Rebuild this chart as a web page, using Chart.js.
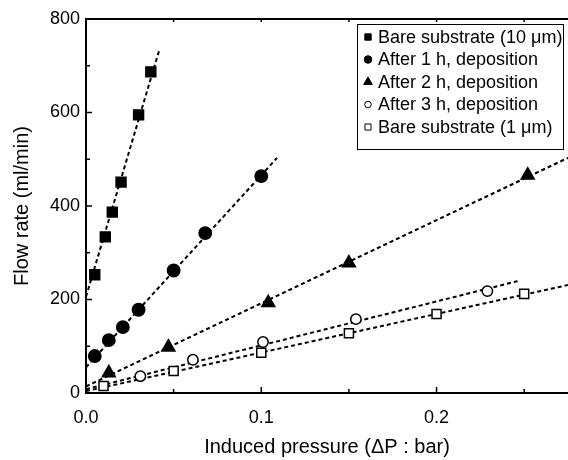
<!DOCTYPE html>
<html>
<head>
<meta charset="utf-8">
<script src="https://cdn.jsdelivr.net/npm/chart.js@4.4.0/dist/chart.umd.min.js"></script>
<style>
  html, body { margin: 0; padding: 0; background: #fff; }
</style>
</head>
<body>
<canvas id="grafico" width="568" height="460"></canvas>
<script>
// valores (fluxo x pressão)
const sub10X = [0.005, 0.011, 0.015, 0.020, 0.030, 0.037];
const sub10Y = [253, 334, 387, 451, 595, 687];
const dep1X = [0.005, 0.013, 0.021, 0.030, 0.050, 0.068, 0.100];
const dep1Y = [79, 113, 141, 178, 262, 342, 464];
const dep2X = [0.013, 0.047, 0.104, 0.150, 0.252];
const dep2Y = [43, 98, 193, 278, 466];
const dep3X = [0.031, 0.061, 0.101, 0.154, 0.229];
const dep3Y = [36, 71, 109, 158, 218];
const sub1X = [0.010, 0.050, 0.100, 0.150, 0.200, 0.250];
const sub1Y = [15, 47, 86, 128, 169, 212];

// retas de ajuste (extremos)
const fitSub10X = [0, 0.042];
const fitSub10Y = [206, 736];
const fitDep1X = [0, 0.109];
const fitDep1Y = [55, 503];
const fitDep2X = [0, 0.275];
const fitDep2Y = [14, 503];
const fitDep3X = [0, 0.247];
const fitDep3Y = [8, 240];
const fitSub1X = [0, 0.275];
const fitSub1Y = [4, 231];

const legendLabels = [
    'Bare substrate (10 \u03bcm)',
    'After 1 h, deposition',
    'After 2 h, deposition',
    'After 3 h, deposition',
    'Bare substrate (1 \u03bcm)'
];
const yTicks = [0, 200, 400, 600, 800];
const xTicks = [0.0, 0.1, 0.2];

const FONTE = "'Liberation Sans', Arial, sans-serif";

function pts(xs, ys) {
    return xs.map((x, i) => ({ x: x, y: ys[i] }));
}

// estilos dos marcadores (grafico e legenda)
const marcadores = [
    { style: 'rect', r: 7, fill: '#000', lr: 4.5 },
    { style: 'circle', r: 6.2, fill: '#000', lr: 3.8 },
    { style: 'triangle', r: 7.5, fill: '#000', lr: 5 },
    { style: 'circle', r: 5.2, fill: '#fff', lr: 3.3 },
    { style: 'rect', r: 6.4, fill: '#fff', lr: 4.3 }
];

function serie(i, xs, ys) {
    const m = marcadores[i];
    return {
        label: legendLabels[i],
        data: pts(xs, ys),
        pointStyle: m.style,
        pointRadius: m.r,
        pointBackgroundColor: m.fill,
        pointBorderColor: '#000',
        pointBorderWidth: 1.5,
        showLine: false,
        order: 1
    };
}

function reta(xs, ys) {
    return {
        label: '',
        data: pts(xs, ys),
        showLine: true,
        borderColor: '#000',
        borderWidth: 2,
        borderDash: [4, 3],
        pointRadius: 0,
        order: 2
    };
}

const molduraPlugin = {
    id: 'moldura',
    afterDraw(chart) {
        const ctx = chart.ctx;
        const a = chart.chartArea;
        const sx = chart.scales.x;
        const sy = chart.scales.y;
        ctx.save();
        ctx.strokeStyle = '#000';
        ctx.lineWidth = 2;
        ctx.beginPath();
        ctx.moveTo(a.right, a.top);
        ctx.lineTo(a.left, a.top);
        ctx.lineTo(a.left, a.bottom);
        ctx.lineTo(a.right, a.bottom);
        ctx.stroke();

        // marcas para dentro
        ctx.lineWidth = 1.5;
        ctx.beginPath();
        for (let v = 100; v < 800; v += 100) {
            const py = sy.getPixelForValue(v);
            const len = v % 200 === 0 ? 6 : 4;
            ctx.moveTo(a.left, py);
            ctx.lineTo(a.left + len, py);
        }
        for (let k = 1; k <= 5; k++) {
            const px = sx.getPixelForValue(k * 0.05);
            const len = k % 2 === 0 ? 6 : 4;
            ctx.moveTo(px, a.bottom);
            ctx.lineTo(px, a.bottom - len);
            ctx.moveTo(px, a.top);
            ctx.lineTo(px, a.top + 3);
        }
        ctx.stroke();

        // legenda
        const bx = 357, by = 24, bw = 206, bh = 125;
        ctx.lineWidth = 1;
        ctx.strokeRect(bx + 0.5, by + 0.5, bw, bh);
        ctx.font = '18px ' + FONTE;
        ctx.fillStyle = '#000';
        ctx.textBaseline = 'middle';
        ctx.textAlign = 'left';
        legendLabels.forEach((txt, i) => {
            const yy = by + 13 + i * 22.5;
            const m = marcadores[i];
            ctx.fillStyle = m.fill;
            ctx.strokeStyle = '#000';
            ctx.lineWidth = 1;
            Chart.helpers.drawPoint(ctx, { pointStyle: m.style, radius: m.lr, rotation: 0, borderWidth: 1 }, 368, yy);
            ctx.fillStyle = '#000';
            ctx.fillText(txt, 378, yy + 1);
        });
        ctx.restore();
    }
};

new Chart(document.getElementById('grafico'), {
    type: 'scatter',
    data: {
        datasets: [
            serie(0, sub10X, sub10Y),
            serie(1, dep1X, dep1Y),
            serie(2, dep2X, dep2Y),
            serie(3, dep3X, dep3Y),
            serie(4, sub1X, sub1Y),
            reta(fitSub10X, fitSub10Y),
            reta(fitDep1X, fitDep1Y),
            reta(fitDep2X, fitDep2Y),
            reta(fitDep3X, fitDep3Y),
            reta(fitSub1X, fitSub1Y)
        ]
    },
    options: {
        responsive: false,
        animation: false,
        devicePixelRatio: 1,
        layout: { autoPadding: false, padding: { top: 19, right: 0, left: 0, bottom: 0 } },
        plugins: {
            legend: { display: false },
            tooltip: { enabled: false }
        },
        scales: {
            x: {
                type: 'linear',
                min: 0,
                max: 0.275,
                afterFit(s) { s.height = 67; },
                afterBuildTicks(s) { s.ticks = xTicks.map(v => ({ value: v })); },
                grid: { display: false, drawTicks: false },
                border: { display: false },
                ticks: {
                    padding: 14,
                    color: '#000',
                    font: { family: FONTE, size: 18 },
                    callback: v => v.toFixed(1)
                },
                title: {
                    display: true,
                    text: 'Induced pressure (\u0394P : bar)',
                    color: '#000',
                    font: { family: FONTE, size: 20 },
                    padding: { top: 0, bottom: 1 }
                }
            },
            y: {
                type: 'linear',
                min: 0,
                max: 800,
                afterFit(s) { s.width = 86; },
                afterBuildTicks(s) { s.ticks = yTicks.map(v => ({ value: v })); },
                grid: { display: false, drawTicks: false },
                border: { display: false },
                ticks: {
                    padding: 6,
                    color: '#000',
                    font: { family: FONTE, size: 18 }
                },
                title: {
                    display: true,
                    text: 'Flow rate (ml/min)',
                    color: '#000',
                    font: { family: FONTE, size: 20 },
                    padding: { top: 10, bottom: 0 }
                }
            }
        }
    },
    plugins: [molduraPlugin]
});
</script>
</body>
</html>
